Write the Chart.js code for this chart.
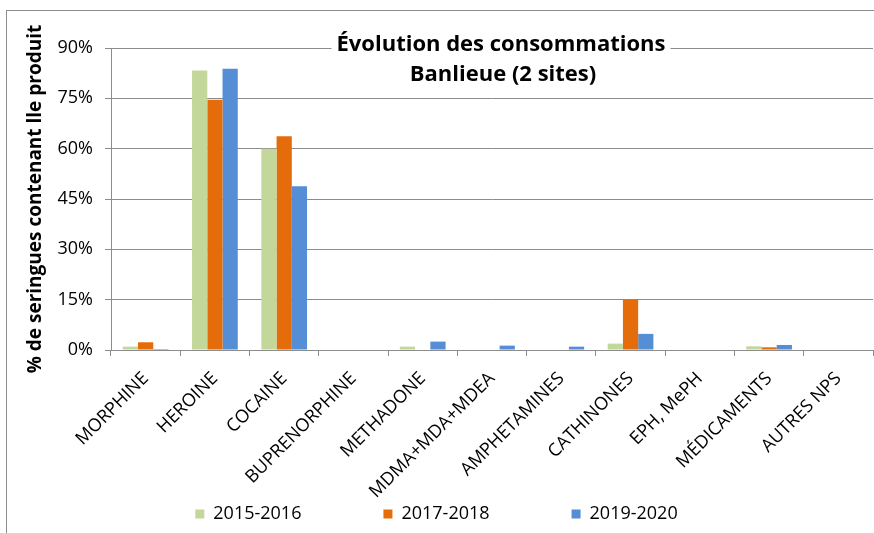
<!DOCTYPE html>
<html>
<head>
<meta charset="utf-8">
<script src="https://cdn.jsdelivr.net/npm/chart.js@4/dist/chart.umd.min.js"></script>
<style>
  html, body { margin: 0; padding: 0; background: #fff; }
  #wrap { width: 874px; height: 533px; position: relative; }
</style>
</head>
<body>
<div id="wrap"><canvas id="myChart"></canvas></div>
<script>
const produits = ["MORPHINE", "HEROINE", "COCAINE", "BUPRENORPHINE", "METHADONE", "MDMA+MDA+MDEA",
  "AMPHETAMINES", "CATHINONES", "EPH, MePH", "MÉDICAMENTS", "AUTRES NPS"];
const periodes = ["2015-2016", "2017-2018", "2019-2020"];
const val2015 = [1.0, 83.3, 60.0, 0, 1.0, 0, 0, 1.9, 0, 1.1, 0];
const val2017 = [2.3, 74.6, 63.7, 0, 0, 0, 0, 15.0, 0, 0.8, 0];
const val2019 = [0.3, 83.8, 48.8, 0, 2.5, 1.3, 1.0, 4.8, 0, 1.5, 0];
const yTicks = [0, 15, 30, 45, 60, 75, 90];
const titre = ["Évolution des consommations", "Banlieue (2 sites)"];
const couleurs = ["#C4D79B", "#E46C0A", "#558ED5"];

const FONT = "'Open Sans', 'Noto Sans', sans-serif";
const GRIS = "#8c8c8c";

// cadre gris + titre posé sur la grille (comme dans Excel)
const cadreTitre = {
  id: "cadreTitre",
  beforeDraw(chart) {
    const { ctx } = chart;
    ctx.save();
    ctx.strokeStyle = GRIS;
    ctx.lineWidth = 1;
    ctx.strokeRect(6.5, 10.5, 1000, 1000);
    ctx.restore();
  },
  afterDraw(chart) {
    const { ctx } = chart;
    ctx.save();
    ctx.font = "bold 22px " + FONT;
    ctx.textAlign = "center";
    ctx.textBaseline = "middle";
    const w = ctx.measureText(titre[0]).width;
    ctx.fillStyle = "#fff";
    ctx.fillRect(501 - w / 2 - 5, 33, w + 10, 24);
    ctx.fillStyle = "#000";
    ctx.fillText(titre[0], 501, 45);
    ctx.fillText(titre[1], 503, 75);
    ctx.restore();
  }
};

const ctx = document.getElementById("myChart");

const myChart = new Chart(ctx, {
  type: "bar",
  plugins: [cadreTitre],
  data: {
    labels: produits,
    datasets: [
      { label: periodes[0], data: val2015, backgroundColor: couleurs[0] },
      { label: periodes[1], data: val2017, backgroundColor: couleurs[1] },
      { label: periodes[2], data: val2019, backgroundColor: couleurs[2] },
    ],
  },
  options: {
    responsive: true,
    maintainAspectRatio: false,
    animation: false,
    datasets: {
      bar: { barPercentage: 1, categoryPercentage: 0.66 }
    },
    layout: {
      padding: { top: 48, right: 1, left: 0, bottom: 0 }
    },
    plugins: {
      title: { display: false },
      tooltip: { enabled: false },
      legend: {
        position: "bottom",
        labels: {
          boxWidth: 9,
          boxHeight: 9,
          padding: 82,
          color: "#000",
          font: { family: FONT, size: 18 },
        }
      },
    },
    scales: {
      x: {
        afterFit(scale) {
          scale.height = 73;
          // les étiquettes inclinées débordent sur la zone de la légende
          scale._computeLabelArea = () => undefined;
        },
        grid: {
          offset: true,
          drawOnChartArea: false,
          drawTicks: true,
          tickLength: 6,
          color: GRIS,
        },
        border: { color: GRIS, width: 1 },
        ticks: {
          autoSkip: false,
          maxRotation: 45,
          minRotation: 45,
          padding: 12,
          color: "#000",
          font: { family: FONT, size: 18 },
        },
      },
      y: {
        min: 0,
        max: 90,
        afterFit(scale) { scale.width = 111; },
        afterBuildTicks(scale) { scale.ticks = yTicks.map(v => ({ value: v })); },
        grid: {
          color: GRIS,
          lineWidth: 1,
          tickLength: 6,
        },
        border: { color: GRIS, width: 1 },
        ticks: {
          padding: 12,
          color: "#000",
          font: { family: FONT, size: 18 },
          callback: (v) => v + "%",
        },
        title: {
          display: true,
          text: "% de seringues contenant lle produit",
          color: "#000",
          font: { family: FONT, size: 19, weight: "bold" },
          padding: { top: 24, bottom: 0 },
        },
      },
    },
  },
});
</script>
</body>
</html>
